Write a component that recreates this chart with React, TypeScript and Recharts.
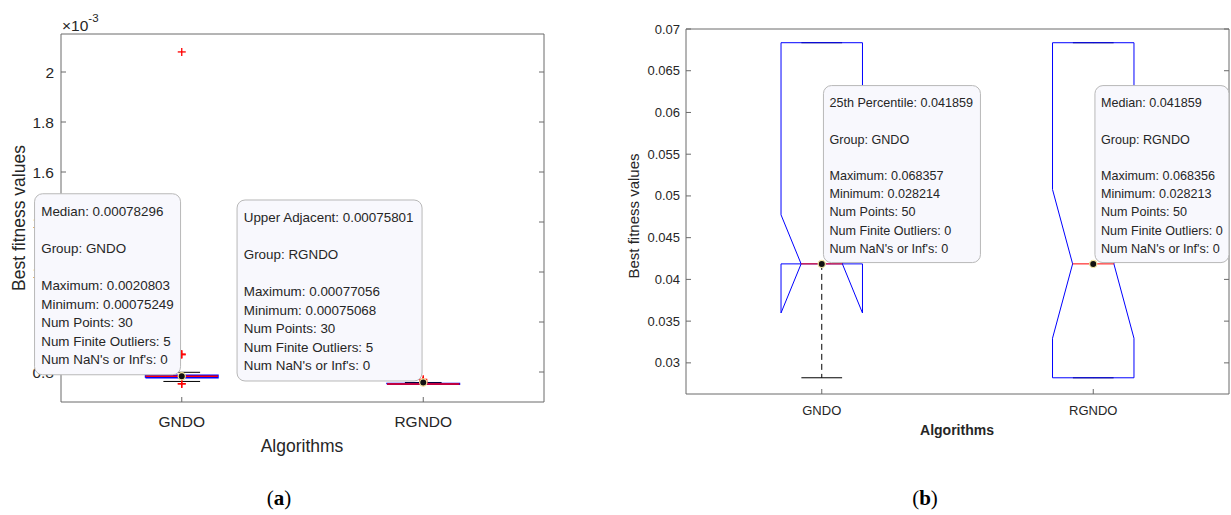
import React from 'react'
import { ComposedChart, XAxis, YAxis, Line, Scatter } from 'recharts'

const GROUPS = ['GNDO', 'RGNDO']

// ---- panel (a): five-number summaries ----
const A_Q1 = [0.000777, 0.0007515]
const A_MEDIAN = [0.00078296, 0.0007525]
const A_Q3 = [0.000787, 0.0007545]
const A_LOW_ADJ = [0.0007622, 0.00075068]
const A_UP_ADJ = [0.0007988, 0.00075801]
const A_OUTLIERS = [
  [0.0020803, 0.000872, 0.000869, 0.000753, 0.00075249],
  [0.00077056, 0.000766, 0.000763, 0.000761, 0.000759],
]
const A_TICKS = [0.0008, 0.001, 0.0012, 0.0014, 0.0016, 0.0018, 0.002]
const A_TIP_Y = [0.00078296, 0.00075801]
const A_TIP_TEXT = [
  ['Median: 0.00078296', '', 'Group: GNDO', '', 'Maximum: 0.0020803', 'Minimum: 0.00075249', 'Num Points: 30', 'Num Finite Outliers: 5', "Num NaN's or Inf's: 0"],
  ['Upper Adjacent: 0.00075801', '', 'Group: RGNDO', '', 'Maximum: 0.00077056', 'Minimum: 0.00075068', 'Num Points: 30', 'Num Finite Outliers: 5', "Num NaN's or Inf's: 0"],
]

// ---- panel (b): notched boxes ----
const B_Q1 = [0.041859, 0.028213]
const B_MEDIAN = [0.041859, 0.041859]
const B_Q3 = [0.068357, 0.068356]
const B_LOW_ADJ = [0.028214, 0.028213]
const B_UP_ADJ = [0.068357, 0.068356]
const B_NOTCH_LO = [0.03598, 0.03295]
const B_NOTCH_HI = [0.04774, 0.05077]
const B_TICKS = [0.03, 0.035, 0.04, 0.045, 0.05, 0.055, 0.06, 0.065, 0.07]
const B_TIP_Y = [0.041859, 0.041859]
const B_TIP_TEXT = [
  ['25th Percentile: 0.041859', '', 'Group: GNDO', '', 'Maximum: 0.068357', 'Minimum: 0.028214', 'Num Points: 50', 'Num Finite Outliers: 0', "Num NaN's or Inf's: 0"],
  ['Median: 0.041859', '', 'Group: RGNDO', '', 'Maximum: 0.068356', 'Minimum: 0.028213', 'Num Points: 50', 'Num Finite Outliers: 0', "Num NaN's or Inf's: 0"],
]

const BLUE = '#0000ff'
const RED = '#ff0000'
const AXIS = '#6a6a6a'
const TXT = '#262626'
const FONT = "'Liberation Sans', Arial, Helvetica, sans-serif"
const SERIF = "'Liberation Serif', 'DejaVu Serif', serif"

type Pt = { x: number; y: number }
type Seg = { pts: Pt[]; color: string; width: number; dash?: string }

// builds the outline pieces of one box, in data units
function boxSegs(
  x: number, q1: number, med: number, q3: number, lo: number, hi: number,
  bw: number, cw: number, lw: number, notch?: [number, number], nw?: number
): Seg[] {
  const s: Seg[] = []
  s.push({ pts: [{ x, y: q3 }, { x, y: hi }], color: '#000', width: 1, dash: '6 4' })
  s.push({ pts: [{ x, y: q1 }, { x, y: lo }], color: '#000', width: 1, dash: '6 4' })
  s.push({ pts: [{ x: x - cw, y: hi }, { x: x + cw, y: hi }], color: '#000', width: 1 })
  s.push({ pts: [{ x: x - cw, y: lo }, { x: x + cw, y: lo }], color: '#000', width: 1 })
  if (notch && nw) {
    const [nl, nh] = notch
    s.push({
      pts: [
        { x: x - bw, y: q1 }, { x: x - bw, y: nl }, { x: x - nw, y: med }, { x: x - bw, y: nh },
        { x: x - bw, y: q3 }, { x: x + bw, y: q3 }, { x: x + bw, y: nh }, { x: x + nw, y: med },
        { x: x + bw, y: nl }, { x: x + bw, y: q1 }, { x: x - bw, y: q1 },
      ],
      color: BLUE, width: lw,
    })
    s.push({ pts: [{ x: x - nw, y: med }, { x: x + nw, y: med }], color: RED, width: lw })
  } else {
    s.push({
      pts: [
        { x: x - bw, y: q1 }, { x: x + bw, y: q1 }, { x: x + bw, y: q3 },
        { x: x - bw, y: q3 }, { x: x - bw, y: q1 },
      ],
      color: BLUE, width: lw,
    })
    s.push({ pts: [{ x: x - bw, y: med }, { x: x + bw, y: med }], color: RED, width: lw })
  }
  return s
}

const segsA = GROUPS.flatMap((_, i) =>
  boxSegs(i + 1, A_Q1[i], A_MEDIAN[i], A_Q3[i], A_LOW_ADJ[i], A_UP_ADJ[i], 0.15, 0.076, 1.5)
)
const segsB = GROUPS.flatMap((_, i) =>
  boxSegs(i + 1, B_Q1[i], B_MEDIAN[i], B_Q3[i], B_LOW_ADJ[i], B_UP_ADJ[i], 0.15, 0.075, 1,
    [B_NOTCH_LO[i], B_NOTCH_HI[i]], 0.076)
)
const outliersA = GROUPS.flatMap((_, i) => A_OUTLIERS[i].map((v) => ({ x: i + 1, y: v })))
const tipsA = GROUPS.map((_, i) => ({ x: i + 1, y: A_TIP_Y[i], i, lines: A_TIP_TEXT[i] }))
const tipsB = GROUPS.map((_, i) => ({ x: i + 1, y: B_TIP_Y[i], i, lines: B_TIP_TEXT[i] }))

const Plus = (p: any) => (
  <g>
    <line x1={p.cx - 4} x2={p.cx + 4} y1={p.cy} y2={p.cy} stroke={RED} strokeWidth={1.3} />
    <line x1={p.cx} x2={p.cx} y1={p.cy - 4} y2={p.cy + 4} stroke={RED} strokeWidth={1.3} />
  </g>
)

type TipStyle = {
  side: 'left' | 'right'; w: number[]; h: number; gapX: number; gapY: number
  fs: number; lh: number; first: number; pad: number
}

const makeTip = (st: TipStyle) => (p: any) => {
  const { cx, cy, payload } = p
  const w = st.w[payload.i]
  const left = st.side === 'left' ? cx - st.gapX - w : cx + st.gapX
  const top = cy - st.gapY - st.h
  return (
    <g>
      <rect x={left} y={top} width={w} height={st.h} rx={8} ry={8} fill="#f8f8fd" stroke="#b8b8b8" strokeWidth={1} />
      {payload.lines.map((t: string, k: number) =>
        t ? (
          <text key={k} x={left + st.pad} y={top + st.first + k * st.lh} dominantBaseline="central"
            fontFamily={FONT} fontSize={st.fs} fill={TXT}>{t}</text>
        ) : null
      )}
      <circle cx={cx} cy={cy} r={3.6} fill="#111" stroke="#f3e6a0" strokeWidth={1.2} />
    </g>
  )
}

const tipA = makeTip({ side: 'left', w: [146, 185], h: 181, gapX: 1.2, gapY: 1.5, fs: 13.4, lh: 18.5, first: 18, pad: 6.7 })
const tipB = makeTip({ side: 'right', w: [157, 134], h: 177, gapX: 1.7, gapY: 1.3, fs: 12.6, lh: 18.2, first: 17.6, pad: 6 })

const fmtA = (v: number) => String(+(v * 1000).toFixed(1))
const fmtB = (v: number) => String(+v.toFixed(3))

const leftTick = (fmt: (v: number) => string, fs: number, gap: number) => (p: any) => (
  <g>
    <line x1={p.x} x2={p.x + 5} y1={p.y} y2={p.y} stroke={AXIS} />
    <text x={p.x - gap} y={p.y} dominantBaseline="central" textAnchor="end" fontFamily={FONT} fontSize={fs} fill={TXT}>
      {fmt(p.payload.value)}
    </text>
  </g>
)
const rightTick = (p: any) => <line x1={p.x - 5} x2={p.x} y1={p.y} y2={p.y} stroke={AXIS} />
const topTick = (p: any) => <line x1={p.x} x2={p.x} y1={p.y} y2={p.y + 5} stroke={AXIS} />
const bottomTick = (fs: number, dy: number) => (p: any) => (
  <g>
    <line x1={p.x} x2={p.x} y1={p.y - 5} y2={p.y} stroke={AXIS} />
    <text x={p.x} y={p.y + dy} textAnchor="middle" fontFamily={FONT} fontSize={fs} fill={TXT}>
      {GROUPS[p.payload.value - 1]}
    </text>
  </g>
)

type PanelProps = {
  width: number; height: number; margin: any; xDomain: number[]; yDomain: number[]; yTicks: number[]
  segs: Seg[]; outliers: Pt[]; tips: any[]; tip: any; fmt: (v: number) => string
  yFs: number; yGap: number; xFs: number; xDy: number; layer: 'base' | 'tips'
}

// the tips layer is a second chart with the same frame, stacked on top so the data tips cover the axes
const Panel = (props: PanelProps) => {
  const base = props.layer === 'base'
  const line = base ? { stroke: AXIS } : false
  return (
    <ComposedChart width={props.width} height={props.height} margin={props.margin}>
      <XAxis xAxisId="m" type="number" dataKey="x" domain={props.xDomain} ticks={[1, 2]} interval={0}
        height={1} tickSize={0} tickMargin={0} tickLine={false} axisLine={line}
        tick={base ? bottomTick(props.xFs, props.xDy) : false} />
      <XAxis xAxisId="t" type="number" orientation="top" domain={props.xDomain} ticks={[1, 2]} interval={0}
        allowDataOverflow height={1} tickSize={0} tickMargin={0} tickLine={false} axisLine={line}
        tick={base ? topTick : false} />
      <YAxis yAxisId="m" type="number" dataKey="y" domain={props.yDomain} ticks={props.yTicks} interval={0}
        width={1} tickSize={0} tickMargin={0} tickLine={false} axisLine={line}
        tick={base ? leftTick(props.fmt, props.yFs, props.yGap) : false} />
      <YAxis yAxisId="r" type="number" orientation="right" domain={props.yDomain} ticks={props.yTicks} interval={0}
        allowDataOverflow width={1} tickSize={0} tickMargin={0} tickLine={false} axisLine={line}
        tick={base ? rightTick : false} />
      {base && props.segs.map((s, i) => (
        <Line key={i} xAxisId="m" yAxisId="m" data={s.pts} dataKey="y" stroke={s.color} strokeWidth={s.width}
          strokeDasharray={s.dash} dot={false} activeDot={false} legendType="none" isAnimationActive={false} />
      ))}
      {base && props.outliers.length > 0 && (
        <Scatter xAxisId="m" yAxisId="m" data={props.outliers} dataKey="y" shape={Plus} isAnimationActive={false} />
      )}
      {!base && (
        <Scatter xAxisId="m" yAxisId="m" data={props.tips} dataKey="y" shape={props.tip} isAnimationActive={false} />
      )}
    </ComposedChart>
  )
}

const frameA = {
  width: 600, height: 470, margin: { top: 33, left: 60, right: 55, bottom: 67 },
  xDomain: [0.5, 2.5], yDomain: [0.00068, 0.002152], yTicks: A_TICKS,
  segs: segsA, outliers: outliersA, tips: tipsA, tip: tipA, fmt: fmtA,
  yFs: 15.5, yGap: 7, xFs: 15.5, xDy: 25,
}
const frameB = {
  width: 631, height: 470, margin: { top: 28, left: 85, right: 1, bottom: 75 },
  xDomain: [0.5, 2.5], yDomain: [0.02627, 0.07], yTicks: B_TICKS,
  segs: segsB, outliers: [], tips: tipsB, tip: tipB, fmt: fmtB,
  yFs: 13, yGap: 6, xFs: 13, xDy: 20.5,
}

const abs = (left: number) => ({ position: 'absolute' as const, left, top: 0 })

export default function App() {
  return (
    <div style={{ position: 'absolute', left: 0, top: 0, width: 1231, height: 515, background: '#fff', overflow: 'hidden' }}>
      <div style={abs(0)}><Panel {...frameA} layer="base" /></div>
      <div style={abs(600)}><Panel {...frameB} layer="base" /></div>
      <svg width={1231} height={515} style={{ position: 'absolute', left: 0, top: 0, pointerEvents: 'none' }}>
        <text x={62} y={31} fontFamily={FONT} fontSize={15.5} fill={TXT}>
          ×10<tspan dy={-9} fontSize={11.5}>-3</tspan>
        </text>
        <text transform="translate(25,218) rotate(-90)" textAnchor="middle" fontFamily={FONT} fontSize={17.5} fill={TXT}>
          Best fitness values
        </text>
        <text x={302} y={452} textAnchor="middle" fontFamily={FONT} fontSize={17.5} fill={TXT}>Algorithms</text>
        <text transform="translate(639,216) rotate(-90)" textAnchor="middle" fontFamily={FONT} fontSize={15} fill={TXT}>
          Best fitness values
        </text>
        <text x={957} y={435} textAnchor="middle" fontFamily={FONT} fontSize={14} fontWeight="bold" fill={TXT}>Algorithms</text>
        <text x={279} y={505} textAnchor="middle" fontFamily={SERIF} fontSize={21} fill="#000">
          (<tspan fontWeight="bold">a</tspan>)
        </text>
        <text x={925} y={505} textAnchor="middle" fontFamily={SERIF} fontSize={21} fill="#000">
          (<tspan fontWeight="bold">b</tspan>)
        </text>
      </svg>
      <div style={abs(0)}><Panel {...frameA} layer="tips" /></div>
      <div style={abs(600)}><Panel {...frameB} layer="tips" /></div>
    </div>
  )
}
